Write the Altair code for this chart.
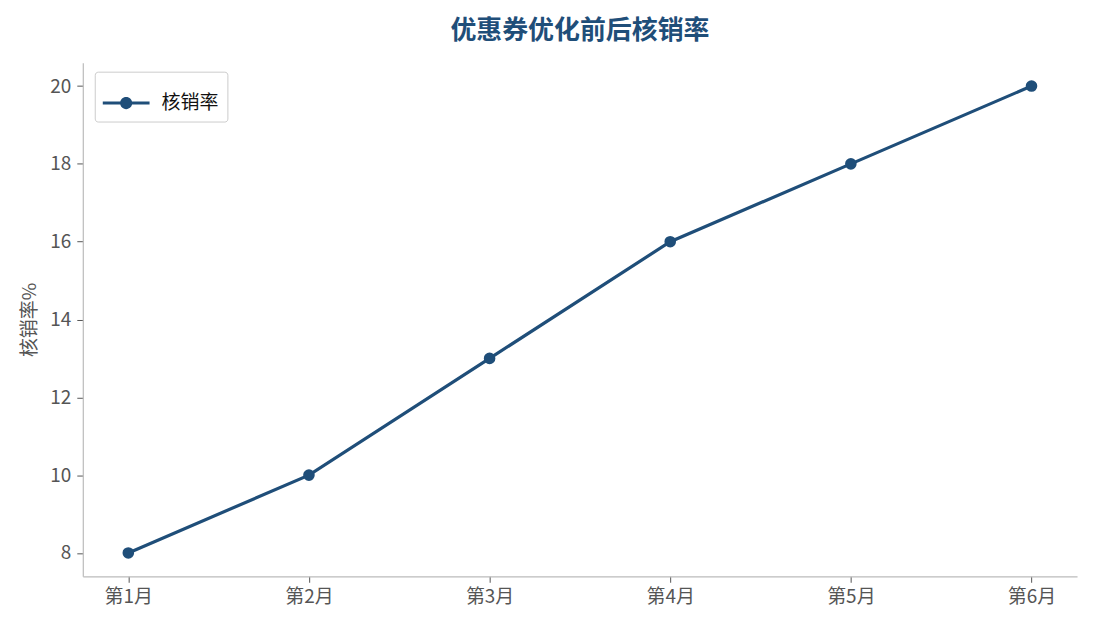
import altair as alt
import pandas as pd

months = ["第1月", "第2月", "第3月", "第4月", "第5月", "第6月"]
rates = [8, 10, 13, 16, 18, 20]
series_name = "核销率"

df = pd.DataFrame({"月份": months, "核销率": rates})
df["系列"] = series_name

color = "#1f4e79"
font = "Noto Sans CJK SC"

legend_symbol = ("M-1,-0.065 L1,-0.065 L1,0.065 L-1,0.065 Z "
                 "M0.26,0 A0.26,0.26 0 1,1 -0.26,0 A0.26,0.26 0 1,1 0.26,0 Z")

base = alt.Chart(df).encode(
    x=alt.X("月份:N", sort=months,
            scale=alt.Scale(type="point", padding=0.252),
            axis=alt.Axis(title=None, labelAngle=0, labelFontSize=19, labelColor="#555555",
                          labelFont=font, tickColor="#555555", tickSize=6, labelPadding=5,
                          domainColor="#bbbbbb", domainWidth=1.2, grid=False)),
    y=alt.Y("核销率:Q",
            scale=alt.Scale(domain=[7.4, 20.6], nice=False, zero=False),
            axis=alt.Axis(title="核销率%", values=[8, 10, 12, 14, 16, 18, 20],
                          titleFontSize=19, titleFontWeight="normal", titleColor="#555555",
                          titleFont=font, titlePadding=10,
                          labelFontSize=19, labelColor="#555555", labelFont=font,
                          tickColor="#555555", tickSize=6, labelPadding=6,
                          domainColor="#bbbbbb", domainWidth=1.2, grid=False)),
    color=alt.Color("系列:N", scale=alt.Scale(range=[color]),
                    legend=alt.Legend(title=None, orient="none", legendX=12, legendY=9,
                                      symbolType=legend_symbol, symbolSize=2200,
                                      symbolFillColor=color, symbolStrokeColor=color,
                                      symbolStrokeWidth=0,
                                      labelFontSize=19, labelFont=font, labelColor="#111111",
                                      strokeColor="#cccccc", fillColor="white",
                                      padding=8, cornerRadius=3, labelOffset=12)),
)

line = base.mark_line(strokeWidth=3.2)
points = base.mark_circle(size=135, opacity=1)

chart = (line + points).properties(
    width=997, height=515,
    title=alt.TitleParams("优惠券优化前后核销率", fontSize=26, fontWeight="bold",
                          color=color, font=font, anchor="middle", offset=19),
    autosize=alt.AutoSizeParams(type="none"),
    padding={"left": 75, "top": 54, "right": 10, "bottom": 50},
).configure_view(stroke=None)

chart.save("out.html", embed_options={"renderer": "svg", "actions": False})
